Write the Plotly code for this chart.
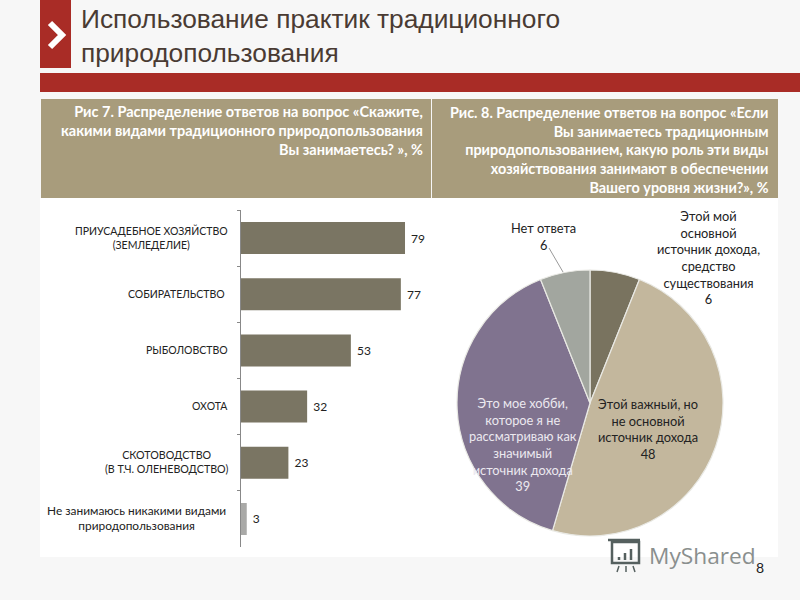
import plotly.graph_objects as go

# ---- data ----
bar_categories = ["ПРИУСАДЕБНОЕ ХОЗЯЙСТВО<br>(ЗЕМЛЕДЕЛИЕ)", "СОБИРАТЕЛЬСТВО", "РЫБОЛОВСТВО", "ОХОТА",
                  "СКОТОВОДСТВО<br>(В Т.Ч. ОЛЕНЕВОДСТВО)", "Не занимаюсь никакими видами<br>природопользования"]
bar_values = [79, 77, 53, 32, 23, 3]
pie_labels = ["Этой мой<br>основной<br>источник дохода,<br>средство<br>существования", "Этой важный, но<br>не основной<br>источник дохода",
              "Это мое хобби,<br>которое я не<br>рассматриваю как<br>значимый<br>источник дохода", "Нет ответа"]
pie_values = [6, 48, 39, 6]
title_text = "Использование практик традиционного<br>природопользования"
header_left = "Рис 7. Распределение ответов на вопрос «Скажите,<br>какими видами традиционного природопользования<br>Вы занимаетесь? », %"
header_right = "Рис. 8. Распределение ответов на вопрос «Если<br>Вы занимаетесь традиционным<br>природопользованием, какую роль эти виды<br>хозяйствования занимают в обеспечении<br>Вашего уровня жизни?», %"

# ---- style ----
W, H = 800, 600
FONT = "Lato"
BAR = "#7a7563"
BAR_LAST = "#a9a9a7"
PIE = ["#79735f", "#c3b79d", "#80738f", "#a2a69f"]
TAN = "#a89c7c"
RED = "#a92c26"
TXT = "#222222"
ICON = "#55605f"

def px(x): return x / W
def py(y): return 1 - y / H

def rect(x0, y0, x1, y1, color):
    return dict(type="rect", xref="paper", yref="paper", x0=px(x0), x1=px(x1), y0=py(y0), y1=py(y1),
                fillcolor=color, line_width=0, layer="below")

def seg(x0, y0, x1, y1, color, width):
    return dict(type="line", xref="paper", yref="paper", x0=px(x0), x1=px(x1), y0=py(y0), y1=py(y1),
                line=dict(color=color, width=width), layer="above")

def note(x, y, text, size, color=TXT, xanchor="center", align="center", family=FONT, yanchor="middle", **kw):
    return dict(xref="paper", yref="paper", x=px(x), y=py(y), text=text, showarrow=False, xanchor=xanchor,
                yanchor=yanchor, align=align, font=dict(family=family, size=size, color=color), **kw)

fig = go.Figure()
fig.add_trace(go.Bar(y=bar_categories, x=bar_values, orientation="h", marker_color=[BAR] * 5 + [BAR_LAST],
                     marker_line_width=0, width=0.57, text=[f" {v}" for v in bar_values], textposition="outside",
                     textfont=dict(family=FONT, size=12, color=TXT), cliponaxis=False, showlegend=False,
                     hoverinfo="skip"))
fig.add_trace(go.Pie(labels=pie_labels, values=pie_values, sort=False, direction="clockwise", rotation=0,
                     marker=dict(colors=PIE, line=dict(color="#e9e9e4", width=1.2)), textinfo="none",
                     domain=dict(x=[px(457), px(723)], y=[py(536), py(270)]), showlegend=False, hoverinfo="skip"))

shapes = [
    rect(0, 0, 800, 600, "#f7f7f7"),
    rect(40, 198, 778, 557, "#ffffff"),
    rect(40, 0, 71, 68, RED),
    rect(40, 73, 800, 92, RED),
    rect(41, 99, 431, 198, TAN),
    rect(432, 99, 778, 198, TAN),
    seg(549, 248, 563, 272, "#9a9a9a", 1),
    dict(type="path", xref="paper", yref="paper", layer="above",
         path=f"M {px(50)} {py(23)} L {px(62)} {py(35)} L {px(50)} {py(47)}",
         line=dict(color="#ffffff", width=6), fillcolor="rgba(0,0,0,0)"),
    # watermark icon
    dict(type="rect", xref="paper", yref="paper", x0=px(612), x1=px(639), y0=py(542), y1=py(563),
         line=dict(color=ICON, width=2.5), layer="above"),
    seg(608, 540, 640, 540, ICON, 2.5),
    seg(619, 560, 619, 557, ICON, 2.5),
    seg(625, 560, 625, 553, ICON, 2.5),
    seg(631, 560, 631, 549, ICON, 2.5),
    seg(619, 566, 617, 572, ICON, 1.5),
    seg(626, 566, 626, 572, ICON, 1.5),
    seg(633, 566, 635, 572, ICON, 1.5),
]

label_x = [230, 227, 230, 230, 230, 228]
label_y = [237.5, 294, 350, 406, 461.5, 518]
label_size = [10.5, 10.5, 10.5, 10.5, 10.7, 11.9]
annotations = [note(x, y, t, s, xanchor="right") for x, y, t, s in zip(label_x, label_y, bar_categories, label_size)]
annotations += [
    note(79, 36, title_text, 26.3, color="#4a3b33", xanchor="left", align="left", family="Liberation Sans"),
    note(425, 130.5, f"<b>{header_left}</b>", 14.5, color="#ffffff", xanchor="right", align="right"),
    note(771, 150, f"<b>{header_right}</b>", 14.4, color="#ffffff", xanchor="right", align="right"),
    note(708, 258, f"{pie_labels[0]}<br>{pie_values[0]}", 12.8, color=TXT),
    note(648, 429, f"{pie_labels[1]}<br>{pie_values[1]}", 12.8, color=TXT),
    note(523, 444, f"{pie_labels[2]}<br>{pie_values[2]}", 12.8, color="#ece9ef"),
    note(543, 236, f"{pie_labels[3]}<br>{pie_values[3]}", 12.8, color=TXT),
    note(647, 555, "MyShared", 22.7, color="#8a8f8e", xanchor="left", family="Open Sans"),
    note(760, 567, "8", 14, color=TXT),
]

fig.update_layout(
    width=W, height=H, margin=dict(l=0, r=0, t=0, b=0), autosize=False,
    paper_bgcolor="#f7f7f7", plot_bgcolor="rgba(0,0,0,0)", shapes=shapes, annotations=annotations,
    xaxis=dict(domain=[px(240.5), px(430)], range=[0, 91], visible=False),
    yaxis=dict(domain=[py(547), py(210)], autorange="reversed", showticklabels=False, showgrid=False,
               ticks="outside", ticklen=3, tickcolor="#888888", tickson="boundaries", showline=True,
               linecolor="#888888", linewidth=1, zeroline=False),
)
fig.write_html("out.html", config=dict(displayModeBar=False), post_script="document.body.style.margin='0';")
